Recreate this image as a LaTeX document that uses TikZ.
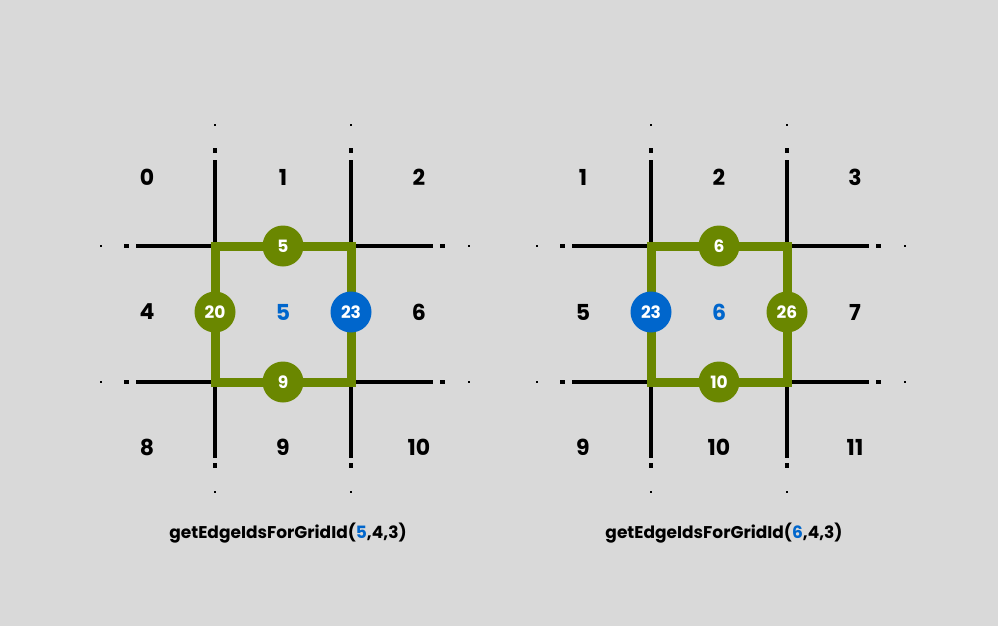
\documentclass[tikz,border=0pt]{standalone}
\usepackage{fontspec}
\setmainfont{Poppins}[BoldFont={* Bold}]
\definecolor{bg}{HTML}{D9D9D9}
\definecolor{grn}{HTML}{6A8700}
\definecolor{blu}{HTML}{0066CC}
\begin{document}
\begin{tikzpicture}[x=1pt,y=-1pt,
  gl/.style={line width=4pt,black},
  cell/.style={font=\bfseries\fontsize{22}{22}\selectfont},
  edge/.style={circle,minimum size=41pt,inner sep=0pt,fill=grn,text=white,font=\bfseries\fontsize{17}{17}\selectfont},
  bedge/.style={edge,fill=blu},
  sq/.style={line width=9pt,grn},
  captext/.style={font=\bfseries\fontsize{17}{17}\selectfont}]
\fill[bg] (0,0) rectangle (998,626);
\useasboundingbox (0,0) rectangle (998,626);
\foreach \dx/\n in {0/0,436/1}{
 \begin{scope}[xshift=\dx pt]
  \foreach \x in {215,351}{
    \draw[gl] (\x,160) -- (\x,458);
    \draw[gl] (\x,148) -- (\x,153);
    \draw[gl] (\x,463) -- (\x,468);
    \draw[line width=2pt] (\x,124) -- (\x,126);
    \draw[line width=2pt] (\x,491) -- (\x,493);
  }
  \foreach \y in {246,382}{
    \draw[gl] (136,\y) -- (433,\y);
    \draw[gl] (124,\y) -- (129,\y);
    \draw[gl] (440,\y) -- (445,\y);
    \draw[line width=2pt] (100,\y) -- (102,\y);
    \draw[line width=2pt] (468,\y) -- (470,\y);
  }
  \draw[sq] (215,246) rectangle (351,382);
 \end{scope}}
% left grid labels
\foreach \t [count=\i from 0] in {0,1,2,4,,6,8,9,10}{
  \pgfmathtruncatemacro\c{mod(\i,3)}\pgfmathtruncatemacro\r{div(\i,3)}
  \node[cell] (l\i) at (147+136*\c,177+135*\r) {\t};}
\node[cell,text=blu] (lc) at (283,312) {5};
\node[edge] (le5) at (283,246) {5};
\node[edge] (le20) at (215,312) {20};
\node[bedge] (le23) at (351,312) {23};
\node[edge] (le9) at (283,382) {9};
\node[captext] (lcap) at (288,533) {getEdgeIdsForGridId(\textcolor{blu}{5},4,3)};
% right grid labels
\foreach \t [count=\i from 0] in {1,2,3,5,,7,9,10,11}{
  \pgfmathtruncatemacro\c{mod(\i,3)}\pgfmathtruncatemacro\r{div(\i,3)}
  \node[cell] (r\i) at (583+136*\c,177+135*\r) {\t};}
\node[cell,text=blu] (rc) at (719,312) {6};
\node[edge] (re6) at (719,246) {6};
\node[bedge] (re23) at (651,312) {23};
\node[edge] (re26) at (787,312) {26};
\node[edge] (re10) at (719,382) {10};
\node[captext] (rcap) at (724,533) {getEdgeIdsForGridId(\textcolor{blu}{6},4,3)};
\end{tikzpicture}
\end{document}
